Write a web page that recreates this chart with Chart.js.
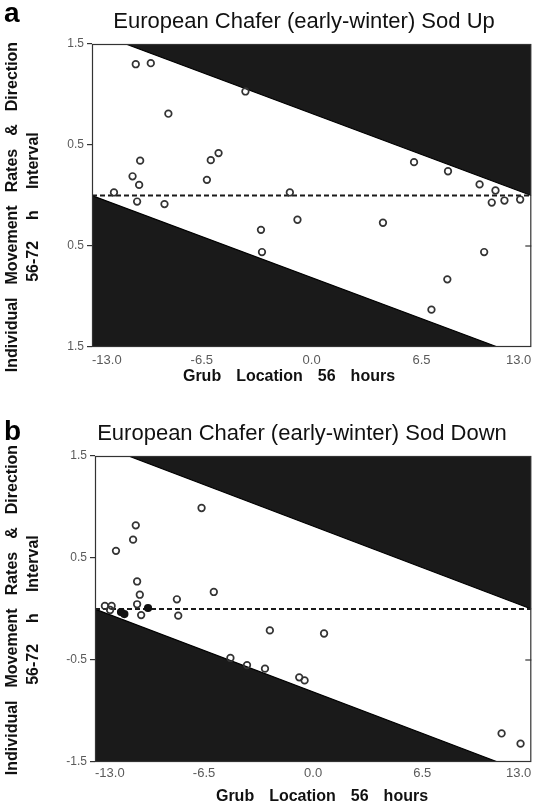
<!DOCTYPE html>
<html>
<head>
<meta charset="utf-8">
<script src="https://cdn.jsdelivr.net/npm/chart.js@4.4.1/dist/chart.umd.min.js"></script>
<style>
  html, body { margin: 0; padding: 0; background: #fff; }
  body { width: 535px; height: 809px; position: relative; overflow: hidden; }
  canvas { position: absolute; left: 0; }
  #chartA { top: 0; }
  #chartB { top: 410px; }
</style>
</head>
<body>
<canvas id="chartA" width="537" height="405"></canvas>
<canvas id="chartB" width="537" height="399"></canvas>
<script>
// ---------- data ----------
const xTickValues = [-13, -6.5, 0, 6.5, 13];
const xTickLabels = ['-13.0', '-6.5', '0.0', '6.5', '13.0'];
const yTickValues = [-1.5, -0.5, 0.5, 1.5];
const yTickLabelsA = ['1.5', '0.5', '0.5', '1.5'];
const yTickLabelsB = ['-1.5', '-0.5', '0.5', '1.5'];

// limits of possible movement (arena edges)
const upperLimitX = [-11, 13];
const upperLimitY = [1.5, 0];
const lowerLimitX = [-13, 11];
const lowerLimitY = [0, -1.5];
const zeroLineX = [-13, 13];
const zeroLineY = [0, 0];

// Panel a: Sod Up
const sodUpX = [-10.41, -9.52, -3.92, -8.48, -10.15, -10.60, -10.21, -11.70, -10.33, -8.71,
                -5.97, -5.51, -6.20, -1.29, -0.84, 6.06, 8.07, 9.94, 10.88, 10.66,
                11.41, 12.34, -3.00, -2.94, 4.22, 10.21, 8.03, 7.09];
const sodUpY = [1.30, 1.31, 1.03, 0.81, 0.345, 0.19, 0.105, 0.03, -0.06, -0.085,
                0.35, 0.42, 0.155, 0.03, -0.24, 0.33, 0.24, 0.11, 0.05, -0.07,
                -0.05, -0.04, -0.34, -0.56, -0.27, -0.56, -0.83, -1.13];

// Panel b: Sod Down
const sodDownX = [-6.65, -10.57, -10.73, -11.75, -10.49, -10.33, -8.12, -5.92, -10.49, -12.41,
                  -12.01, -12.10, -10.25, -8.04, -2.58, -4.93, -3.94, -2.87, -0.83, -0.51,
                  0.65, 11.23, 12.36];
const sodDownY = [0.99, 0.82, 0.68, 0.57, 0.27, 0.14, 0.095, 0.167, 0.046, 0.03,
                  0.03, -0.01, -0.06, -0.065, -0.21, -0.48, -0.55, -0.585, -0.67, -0.70,
                  -0.24, -1.22, -1.32];
const sodDownFilledX = [-11.45, -11.25, -9.84];
const sodDownFilledY = [-0.03, -0.05, 0.01];

// ---------- helpers ----------
const FONT = '"Liberation Sans", Arial, Helvetica, sans-serif';
const pts = (xs, ys) => xs.map((x, i) => ({ x: x, y: ys[i] }));

function drawSpaced(ctx, words, gap, cx, cy, rotate, font) {
  ctx.save();
  ctx.font = font;
  ctx.fillStyle = '#111';
  ctx.textBaseline = 'middle';
  ctx.textAlign = 'left';
  ctx.translate(cx, cy);
  if (rotate) ctx.rotate(-Math.PI / 2);
  const widths = words.map(w => ctx.measureText(w).width);
  const total = widths.reduce((a, b) => a + b, 0) + gap * (words.length - 1);
  let x = -total / 2;
  words.forEach((w, i) => { ctx.fillText(w, x, 0); x += widths[i] + gap; });
  ctx.restore();
}

function makeChart(id, cfg) {
  const textPlugin = {
    id: 'texts' + id,
    afterDraw(chart) {
      const ctx = chart.ctx;
      const a = chart.chartArea;
      // frame
      ctx.save();
      ctx.strokeStyle = '#333';
      ctx.lineWidth = 1.2;
      ctx.strokeRect(a.left + 0.5, a.top + 0.5, a.right - a.left - 1, a.bottom - a.top - 1);
      // short tick on the right edge
      const yr = chart.scales.y.getPixelForValue(-0.5);
      ctx.beginPath();
      ctx.moveTo(a.right - 6, yr); ctx.lineTo(a.right, yr); ctx.stroke();
      // panel letter
      ctx.fillStyle = '#000';
      ctx.font = 'bold 28px ' + FONT;
      ctx.textAlign = 'left';
      ctx.textBaseline = 'alphabetic';
      ctx.fillText(cfg.letter, 4, cfg.letterY);
      // title
      ctx.font = '22px ' + FONT;
      ctx.fillStyle = '#111';
      ctx.textAlign = 'center';
      ctx.fillText(cfg.title, cfg.titleX, cfg.titleY);
      ctx.restore();
      // axis titles
      const bold = 'bold 16px ' + FONT;
      drawSpaced(ctx, ['Individual', 'Movement', 'Rates', '&', 'Direction'], 13, 13, cfg.yTitleY, true, bold);
      drawSpaced(ctx, ['56-72', 'h', 'Interval'], 21, 34, cfg.yTitleY, true, bold);
      drawSpaced(ctx, ['Grub', 'Location', '56', 'hours'], 15, cfg.xTitleX, cfg.xTitleY, false, bold);
    }
  };

  return new Chart(document.getElementById(id), {
    type: 'scatter',
    data: {
      datasets: [
        {
          type: 'scatter',
          data: pts(cfg.xs, cfg.ys),
          pointRadius: 3.3,
          pointBorderWidth: 1.7,
          pointBorderColor: '#333',
          pointBackgroundColor: 'rgba(255,255,255,0)',
          clip: false,
          order: 0
        },
        {
          type: 'scatter',
          data: pts(cfg.fxs, cfg.fys),
          pointRadius: 3.3,
          pointBorderWidth: 1.6,
          pointBorderColor: '#111',
          pointBackgroundColor: '#111',
          clip: false,
          order: 0
        },
        {
          type: 'line',
          data: pts(zeroLineX, zeroLineY),
          borderColor: '#1a1a1a',
          borderWidth: 2.2,
          borderDash: [5, 3],
          pointRadius: 0,
          fill: false,
          order: 1
        },
        {
          type: 'line',
          data: pts(upperLimitX, upperLimitY),
          borderColor: '#000',
          borderWidth: 1.2,
          backgroundColor: '#1a1a1a',
          pointRadius: 0,
          fill: 'end',
          tension: 0,
          order: 2
        },
        {
          type: 'line',
          data: pts(lowerLimitX, lowerLimitY),
          borderColor: '#000',
          borderWidth: 1.2,
          backgroundColor: '#1a1a1a',
          pointRadius: 0,
          fill: 'start',
          tension: 0,
          order: 2
        }
      ]
    },
    options: {
      responsive: false,
      animation: false,
      events: [],
      layout: { padding: { top: cfg.padTop, right: 0, bottom: cfg.padBottom, left: 0 } },
      plugins: { legend: { display: false }, tooltip: { enabled: false }, title: { display: false } },
      scales: {
        x: {
          type: 'linear',
          min: -13, max: 13,
          afterBuildTicks: s => { s.ticks = xTickValues.map(v => ({ value: v })); },
          afterFit: s => { s.height = 30; s.paddingLeft = 0; s.paddingRight = 0; },
          grid: { display: false, drawTicks: false },
          border: { display: false },
          ticks: {
            autoSkip: false, maxRotation: 0, padding: cfg.xPad, align: 'inner',
            color: '#5a5a5a', font: { family: FONT, size: 13 },
            callback: (v, i) => xTickLabels[i]
          }
        },
        y: {
          type: 'linear',
          min: -1.5, max: 1.5,
          afterBuildTicks: s => { s.ticks = yTickValues.map(v => ({ value: v })); },
          afterFit: s => { s.width = cfg.yWidth; s.paddingTop = 0; s.paddingBottom = 0; },
          grid: { drawOnChartArea: false, drawTicks: true, tickLength: 5, color: '#333', lineWidth: 1.2 },
          border: { display: false },
          ticks: {
            autoSkip: false, padding: 3,
            color: '#5a5a5a', font: { family: FONT, size: 12 },
            callback: (v, i) => cfg.yLabels[i]
          }
        }
      }
    },
    plugins: [textPlugin]
  });
}

makeChart('chartA', {
  xs: sodUpX, ys: sodUpY, fxs: [], fys: [],
  yLabels: yTickLabelsA,
  letter: 'a', letterY: 22,
  title: 'European Chafer (early-winter) Sod Up', titleX: 304, titleY: 28,
  yTitleY: 207, xTitleX: 289, xTitleY: 377,
  padTop: 44, padBottom: 28, yWidth: 92, xPad: 6
});

makeChart('chartB', {
  xs: sodDownX, ys: sodDownY, fxs: sodDownFilledX, fys: sodDownFilledY,
  yLabels: yTickLabelsB,
  letter: 'b', letterY: 30,
  title: 'European Chafer (early-winter) Sod Down', titleX: 302, titleY: 30,
  yTitleY: 200, xTitleX: 322, xTitleY: 387,
  padTop: 46, padBottom: 17, yWidth: 95, xPad: 4
});
</script>
</body>
</html>
